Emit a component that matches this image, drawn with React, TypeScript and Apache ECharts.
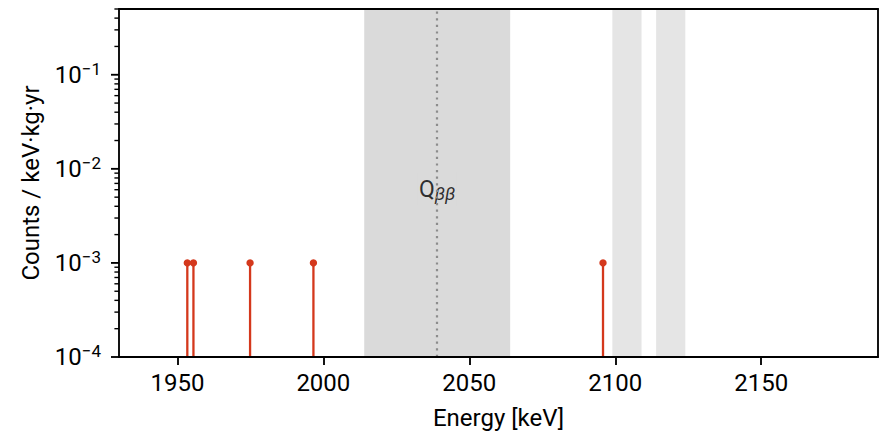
import React, { useEffect, useRef } from "react";
import * as echarts from "echarts";

// Candidate events: energy [keV] and rate [counts / keV·kg·yr]
const eventEnergies = [1953.4, 1955.5, 1974.9, 1996.6, 2095.8];
const eventRates = [1e-3, 1e-3, 1e-3, 1e-3, 1e-3];

// Q-value and analysis windows [keV]
const qbbEnergy = 2039;
const qbbLabelRate = 0.0061;
const blindedWindow = [2014, 2064];
const excludedWindows = [
  [2099, 2109],
  [2114, 2124],
];

// Axis ranges and ticks
const xMin = 1930;
const xMax = 2190;
const xTicks = [1950, 2000, 2050, 2100, 2150];
const yMin = 1e-4;
const yMax = 0.5;
const yDecades = [1e-4, 1e-3, 1e-2, 1e-1];
const yMinorMultipliers = [2, 3, 4, 5, 6, 7, 8, 9];

const FONT = "Roboto";
const FONT_SIZE = 24;
const STEM_RED = "#d4381c";
const AXIS_W = 1.85;

export default function App() {
  const ref = useRef<HTMLDivElement>(null);

  useEffect(() => {
    if (!ref.current) return;
    const chart = echarts.init(ref.current, undefined, { renderer: "svg" });

    // y-axis tick marks (log decades + minor 2..9 subdivisions)
    const yTickData: number[][] = [];
    yDecades.forEach((d) => yTickData.push([xMin, d, 8, AXIS_W]));
    yDecades.forEach((d) =>
      yMinorMultipliers.forEach((m) => {
        const v = d * m;
        if (v <= yMax * (1 + 1e-9)) yTickData.push([xMin, v, 4.6, 1.4]);
      })
    );

    const stemData = eventEnergies.map((e, i) => [e, eventRates[i]]);

    const option: any = {
      animation: false,
      textStyle: { fontFamily: FONT },
      grid: {
        left: 119,
        right: 8,
        top: 9,
        bottom: 81,
        containLabel: false,
        outerBoundsMode: "none",
      },
      xAxis: [
        {
          type: "value",
          min: xMin,
          max: xMax,
          z: 10,
          name: "Energy [keV]",
          nameLocation: "middle",
          nameGap: 49,
          nameTextStyle: { fontSize: FONT_SIZE, color: "#000", fontFamily: FONT },
          axisLine: { onZero: false, lineStyle: { color: "#000", width: AXIS_W } },
          axisTick: {
            customValues: xTicks,
            length: 8,
            lineStyle: { color: "#000", width: AXIS_W },
          },
          axisLabel: {
            customValues: xTicks,
            fontSize: FONT_SIZE,
            color: "#000",
            fontFamily: FONT,
            margin: 14,
            formatter: (v: number) => String(v),
          },
          splitLine: { show: false },
        },
        {
          type: "value",
          position: "top",
          min: xMin,
          max: xMax,
          z: 10,
          axisLine: { show: true, onZero: false, lineStyle: { color: "#000", width: AXIS_W } },
          axisTick: { show: false },
          axisLabel: { show: false },
          splitLine: { show: false },
        },
      ],
      yAxis: [
        {
          type: "log",
          min: yMin,
          max: yMax,
          logBase: 10,
          z: 10,
          name: "Counts / keV·kg·yr",
          nameLocation: "middle",
          nameGap: 76,
          nameTextStyle: { fontSize: FONT_SIZE, color: "#000", fontFamily: FONT },
          axisLine: { onZero: false, lineStyle: { color: "#000", width: AXIS_W } },
          axisTick: { show: false },
          axisLabel: {
            fontSize: FONT_SIZE,
            color: "#000",
            fontFamily: FONT,
            margin: 18,
            formatter: (v: number) => {
              const lg = Math.log10(v);
              const e = Math.round(lg);
              if (Math.abs(lg - e) > 1e-6) return "";
              return "10{sup|\u2212" + String(-e) + "}";
            },
            rich: {
              sup: {
                fontSize: 17,
                fontFamily: FONT,
                color: "#000",
                padding: [0, 0, 12, 0],
              },
            },
          },
          splitLine: { show: false },
        },
        {
          type: "value",
          position: "right",
          min: 0,
          max: 1,
          z: 10,
          axisLine: { show: true, onZero: false, lineStyle: { color: "#000", width: AXIS_W } },
          axisTick: { show: false },
          axisLabel: { show: false },
          splitLine: { show: false },
        },
      ],
      series: [
        {
          name: "windows",
          type: "line",
          data: [],
          z: 1,
          silent: true,
          markArea: {
            silent: true,
            data: [
              [
                { xAxis: blindedWindow[0], itemStyle: { color: "#dadada" } },
                { xAxis: blindedWindow[1] },
              ],
              ...excludedWindows.map((w) => [
                { xAxis: w[0], itemStyle: { color: "#e5e5e5" } },
                { xAxis: w[1] },
              ]),
            ],
          },
          markLine: {
            silent: true,
            symbol: "none",
            label: { show: false },
            lineStyle: { color: "#8c8c8c", width: 2.2, type: [2.2, 4.4] },
            data: [{ xAxis: qbbEnergy }],
          },
        },
        {
          name: "events",
          type: "custom",
          z: 3,
          data: stemData,
          renderItem: (_params: any, api: any) => {
            const top = api.coord([api.value(0), api.value(1)]);
            const base = api.coord([api.value(0), yMin]);
            return {
              type: "group",
              children: [
                {
                  type: "line",
                  shape: { x1: top[0], y1: base[1], x2: top[0], y2: top[1] },
                  style: { stroke: STEM_RED, lineWidth: 2.3 },
                },
                {
                  type: "circle",
                  shape: { cx: top[0], cy: top[1], r: 3.7 },
                  style: { fill: STEM_RED },
                },
              ],
            };
          },
        },
        {
          name: "qbb label",
          type: "scatter",
          z: 4,
          silent: true,
          symbolSize: 0,
          data: [[qbbEnergy, qbbLabelRate]],
          label: {
            show: true,
            position: "inside",
            formatter: "{q|Q}{b|\u03b2\u03b2}",
            backgroundColor: "#dadada",
            padding: [3, 1, 3, 1],
            rich: {
              q: { fontSize: 23, color: "#000", fontFamily: FONT },
              b: {
                fontSize: 18,
                color: "#000",
                fontFamily: FONT,
                fontStyle: "italic",
                padding: [9, 0, 0, 0],
              },
            },
          },
        },
        {
          name: "y ticks",
          type: "custom",
          z: 5,
          clip: false,
          silent: true,
          data: yTickData,
          renderItem: (_params: any, api: any) => {
            const p = api.coord([api.value(0), api.value(1)]);
            const len = api.value(2);
            return {
              type: "line",
              shape: { x1: p[0] - len, y1: p[1], x2: p[0], y2: p[1] },
              style: { stroke: "#000", lineWidth: api.value(3) },
            };
          },
        },
      ],
    };

    chart.setOption(option);
    return () => chart.dispose();
  }, []);

  return (
    <div
      ref={ref}
      style={{ position: "fixed", left: 0, top: 0, width: 886, height: 438, background: "#fff" }}
    />
  );
}
